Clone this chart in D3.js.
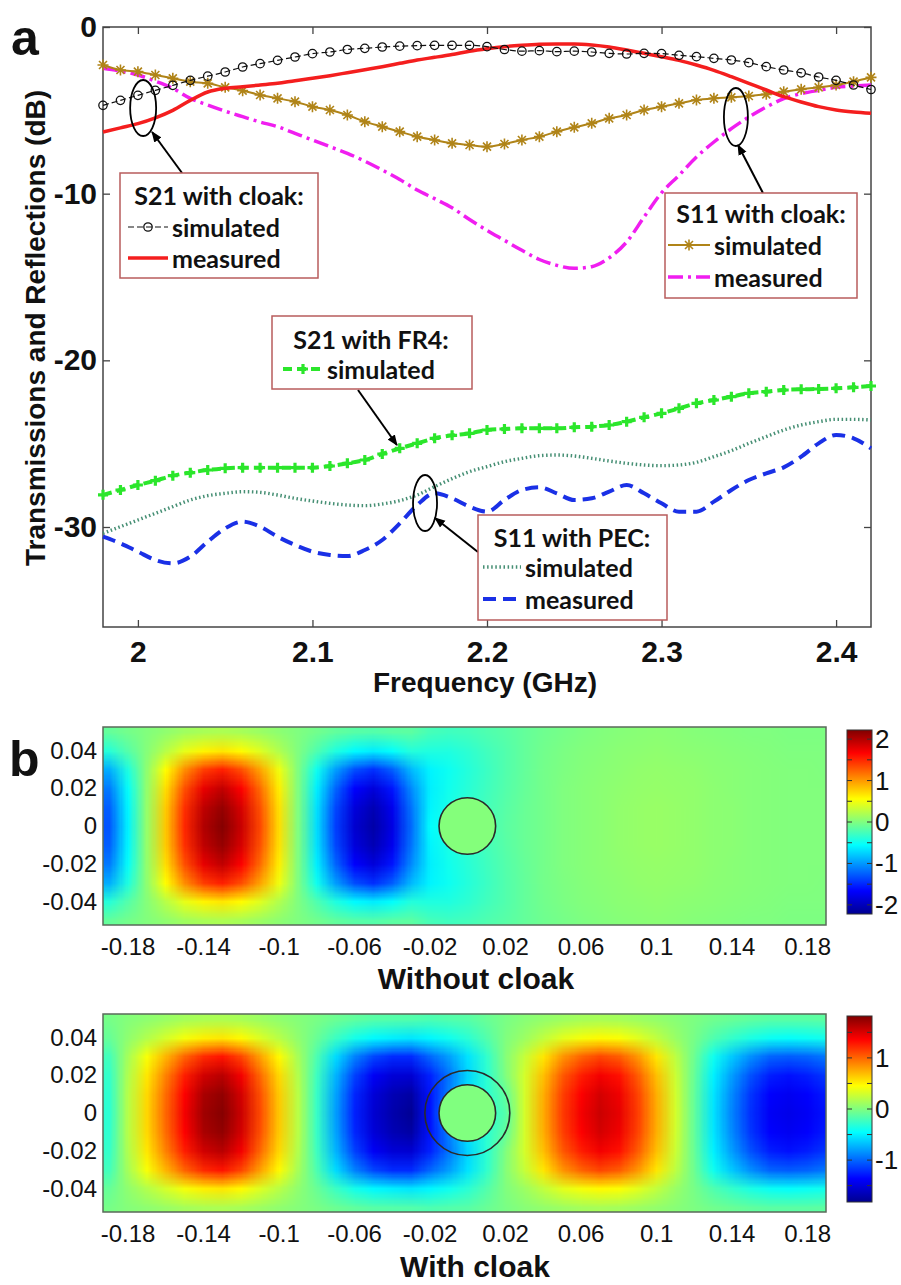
<!DOCTYPE html>
<html>
<head>
<meta charset="utf-8">
<script src="https://cdn.jsdelivr.net/npm/d3@7"></script>
<style>
  body { margin: 0; background: #fff; }
  svg { display: block; }
</style>
</head>
<body>
<svg id="fig" width="901" height="1285"></svg>
<script>
// ---------- panel a data ----------
const freqGHz = [1.98, 1.99, 2.00, 2.01, 2.02, 2.03, 2.04, 2.05, 2.06, 2.07, 2.08, 2.09, 2.10, 2.11, 2.12,
  2.13, 2.14, 2.15, 2.16, 2.17, 2.18, 2.19, 2.20, 2.21, 2.22, 2.23, 2.24, 2.25, 2.26, 2.27, 2.28, 2.29,
  2.30, 2.31, 2.32, 2.33, 2.34, 2.35, 2.36, 2.37, 2.38, 2.39, 2.40, 2.41, 2.42];

const s21CloakSim = [-4.7, -4.4, -4.1, -3.8, -3.5, -3.2, -2.95, -2.7, -2.4, -2.2, -2.0, -1.8, -1.6, -1.5, -1.35,
  -1.28, -1.2, -1.15, -1.12, -1.1, -1.1, -1.1, -1.18, -1.35, -1.45, -1.42, -1.48, -1.45, -1.5, -1.58, -1.62,
  -1.58, -1.6, -1.7, -1.78, -1.88, -1.98, -2.14, -2.38, -2.58, -2.75, -3.0, -3.2, -3.48, -3.75];
const s21CloakMeas = [-6.3, -6.05, -5.8, -5.45, -5.0, -4.4, -3.9, -3.68, -3.58, -3.48, -3.38, -3.22, -3.08, -2.92,
  -2.74, -2.56, -2.38, -2.18, -1.98, -1.82, -1.65, -1.45, -1.3, -1.18, -1.1, -1.04, -1.02, -1.02, -1.08, -1.2,
  -1.38, -1.58, -1.78, -2.0, -2.28, -2.6, -2.98, -3.38, -3.78, -4.18, -4.5, -4.78, -4.98, -5.1, -5.18];
const s11CloakSim = [-2.28, -2.58, -2.68, -2.88, -3.08, -3.28, -3.38, -3.62, -3.82, -4.08, -4.28, -4.48, -4.78,
  -4.98, -5.28, -5.68, -5.98, -6.28, -6.58, -6.78, -6.98, -7.08, -7.18, -7.02, -6.78, -6.58, -6.28, -6.02,
  -5.78, -5.48, -5.28, -4.98, -4.78, -4.58, -4.38, -4.28, -4.22, -4.14, -4.04, -3.88, -3.74, -3.62, -3.48,
  -3.28, -3.02];
const s11CloakMeas = [-2.48, -2.65, -2.88, -3.25, -3.68, -4.28, -4.68, -5.05, -5.38, -5.7, -5.98, -6.38, -6.78,
  -7.18, -7.58, -8.05, -8.58, -9.15, -9.78, -10.3, -10.85, -11.55, -12.2, -12.8, -13.4, -13.95, -14.3, -14.48,
  -14.38, -13.85, -12.9, -11.4, -9.95, -8.9, -7.8, -6.9, -6.1, -5.4, -4.8, -4.3, -4.0, -3.8, -3.62, -3.55, -3.48];
const s21Fr4Sim = [-28.07, -27.78, -27.48, -27.22, -26.92, -26.74, -26.58, -26.48, -26.44, -26.44, -26.44, -26.44,
  -26.44, -26.34, -26.18, -25.98, -25.62, -25.28, -24.98, -24.68, -24.5, -24.38, -24.18, -24.12, -24.08, -24.08,
  -24.08, -24.02, -23.98, -23.88, -23.68, -23.42, -23.18, -22.88, -22.58, -22.38, -22.18, -21.98, -21.88,
  -21.78, -21.74, -21.72, -21.68, -21.62, -21.54];
const s11PecSim = [-30.38, -29.98, -29.58, -29.18, -28.78, -28.38, -28.12, -27.98, -27.88, -27.92, -28.08, -28.28,
  -28.44, -28.58, -28.68, -28.72, -28.62, -28.42, -28.08, -27.58, -27.1, -26.68, -26.38, -26.08, -25.88, -25.72,
  -25.68, -25.74, -25.88, -26.04, -26.18, -26.28, -26.32, -26.28, -26.12, -25.78, -25.42, -24.98, -24.58,
  -24.18, -23.88, -23.68, -23.54, -23.54, -23.58];
const s11PecMeas = [-30.58, -30.98, -31.48, -31.98, -32.18, -31.78, -30.88, -30.08, -29.68, -29.98, -30.58, -31.08,
  -31.48, -31.68, -31.74, -31.38, -30.78, -29.78, -28.68, -27.98, -28.28, -28.78, -29.08, -28.38, -27.78, -27.62,
  -27.98, -28.38, -28.28, -27.88, -27.48, -27.98, -28.58, -29.08, -29.08, -28.48, -27.78, -27.18, -26.78,
  -26.42, -25.78, -24.98, -24.48, -24.68, -25.28];

const freqTicks = [2, 2.1, 2.2, 2.3, 2.4];
const dbTicks = [0, -10, -20, -30];

// ellipse annotations (freq, dB) and arrows [from, to]
const ringMarks = [[2.003, -4.86], [2.3426, -5.4], [2.1645, -28.56]];
const arrowMarks = [
  [[2.0253, -8.76], [2.0081, -6.3]],
  [[2.3581, -9.96], [2.3438, -7.08]],
  [[2.1948, -31.5], [2.1702, -29.46]],
  [[2.1261, -21.78], [2.1484, -25.08]]
];

// ---------- panel b data: field maps, one column per x, rows from y=0.05 down to y=-0.05 ----------
const fieldX = [-0.19, -0.18, -0.17, -0.16, -0.15, -0.14, -0.13, -0.12, -0.11, -0.10, -0.09, -0.08, -0.07,
  -0.06, -0.05, -0.04, -0.03, -0.02, -0.01, 0.00, 0.01, 0.02, 0.03, 0.04, 0.05, 0.06, 0.07, 0.08, 0.09, 0.10,
  0.11, 0.12, 0.13, 0.14, 0.15, 0.16, 0.17, 0.18, 0.19];
const fieldY = [0.05, 0.04, 0.03, 0.02, 0.01, 0, -0.01, -0.02, -0.03, -0.04, -0.05];

const fieldWithout = [
  [-0.12, -0.39, -0.91, -1.14, -1.26, -1.3, -1.26, -1.14, -0.91, -0.39, -0.12],
  [-0.05, -0.18, -0.42, -0.53, -0.58, -0.6, -0.58, -0.53, -0.42, -0.18, -0.05],
  [0.01, 0.03, 0.07, 0.09, 0.1, 0.1, 0.1, 0.09, 0.07, 0.03, 0.01],
  [0.07, 0.24, 0.56, 0.7, 0.78, 0.8, 0.78, 0.7, 0.56, 0.24, 0.07],
  [0.14, 0.45, 1.05, 1.32, 1.46, 1.5, 1.46, 1.32, 1.05, 0.45, 0.14],
  [0.18, 0.6, 1.4, 1.76, 1.94, 2.0, 1.94, 1.76, 1.4, 0.6, 0.18],
  [0.2, 0.66, 1.54, 1.94, 2.13, 2.2, 2.13, 1.94, 1.54, 0.66, 0.2],
  [0.17, 0.57, 1.33, 1.67, 1.84, 1.9, 1.84, 1.67, 1.33, 0.57, 0.17],
  [0.12, 0.41, 0.95, 1.19, 1.31, 1.35, 1.31, 1.19, 0.95, 0.41, 0.12],
  [0.06, 0.21, 0.49, 0.62, 0.68, 0.7, 0.68, 0.62, 0.49, 0.21, 0.06],
  [0, 0, 0, 0, 0, 0, 0, 0, 0, 0, 0],
  [-0.06, -0.21, -0.49, -0.62, -0.68, -0.7, -0.68, -0.62, -0.49, -0.21, -0.06],
  [-0.13, -0.42, -0.98, -1.23, -1.36, -1.4, -1.36, -1.23, -0.98, -0.42, -0.13],
  [-0.17, -0.57, -1.33, -1.67, -1.84, -1.9, -1.84, -1.67, -1.33, -0.57, -0.17],
  [-0.19, -0.63, -1.47, -1.85, -2.04, -2.1, -2.04, -1.85, -1.47, -0.63, -0.19],
  [-0.16, -0.54, -1.26, -1.58, -1.75, -1.8, -1.75, -1.58, -1.26, -0.54, -0.16],
  [-0.15, -0.4, -0.86, -1.06, -1.16, -1.2, -1.16, -1.06, -0.86, -0.4, -0.15],
  [-0.25, -0.42, -0.6, -0.62, -0.6, -0.55, -0.6, -0.62, -0.6, -0.42, -0.25],
  [-0.28, -0.42, -0.5, -0.48, -0.45, -0.45, -0.45, -0.48, -0.5, -0.42, -0.28],
  [-0.26, -0.36, -0.4, -0.38, -0.35, -0.35, -0.35, -0.38, -0.4, -0.36, -0.26],
  [-0.21, -0.27, -0.3, -0.28, -0.26, -0.25, -0.26, -0.28, -0.3, -0.27, -0.21],
  [-0.17, -0.2, -0.2, -0.19, -0.17, -0.16, -0.17, -0.19, -0.2, -0.2, -0.17],
  [-0.12, -0.12, -0.12, -0.11, -0.1, -0.1, -0.1, -0.11, -0.12, -0.12, -0.12],
  [-0.07, -0.06, -0.05, -0.05, -0.05, -0.05, -0.05, -0.05, -0.05, -0.06, -0.07],
  [-0.04, -0.02, -0.01, 0, 0, 0, 0, 0, -0.01, -0.02, -0.04],
  [-0.01, 0.01, 0.02, 0.03, 0.03, 0.03, 0.03, 0.03, 0.02, 0.01, -0.01],
  [0.01, 0.03, 0.04, 0.05, 0.05, 0.05, 0.05, 0.05, 0.04, 0.03, 0.01],
  [0.03, 0.05, 0.06, 0.07, 0.08, 0.08, 0.08, 0.07, 0.06, 0.05, 0.03],
  [0.04, 0.06, 0.08, 0.09, 0.1, 0.1, 0.1, 0.09, 0.08, 0.06, 0.04],
  [0.05, 0.07, 0.09, 0.1, 0.11, 0.11, 0.11, 0.1, 0.09, 0.07, 0.05],
  [0.04, 0.06, 0.08, 0.09, 0.1, 0.1, 0.1, 0.09, 0.08, 0.06, 0.04],
  [0.03, 0.05, 0.07, 0.08, 0.08, 0.08, 0.08, 0.08, 0.07, 0.05, 0.03],
  [0.02, 0.04, 0.05, 0.06, 0.06, 0.06, 0.06, 0.06, 0.05, 0.04, 0.02],
  [0.01, 0.03, 0.04, 0.04, 0.05, 0.05, 0.05, 0.04, 0.04, 0.03, 0.01],
  [0, 0.02, 0.03, 0.03, 0.03, 0.03, 0.03, 0.03, 0.03, 0.02, 0],
  [0, 0.01, 0.02, 0.02, 0.02, 0.02, 0.02, 0.02, 0.02, 0.01, 0],
  [-0.01, 0, 0.01, 0.01, 0.01, 0.01, 0.01, 0.01, 0.01, 0, -0.01],
  [-0.01, 0, 0.01, 0.01, 0.01, 0.01, 0.01, 0.01, 0.01, 0, -0.01],
  [-0.01, 0, 0, 0.01, 0.01, 0.01, 0.01, 0.01, 0, 0, -0.01]
];

const fieldWith = [
  [-0.03, -0.09, -0.22, -0.27, -0.29, -0.3, -0.29, -0.27, -0.22, -0.09, -0.03],
  [0.02, 0.06, 0.14, 0.18, 0.2, 0.2, 0.2, 0.18, 0.14, 0.06, 0.02],
  [0.05, 0.18, 0.43, 0.54, 0.59, 0.6, 0.59, 0.54, 0.43, 0.18, 0.05],
  [0.09, 0.3, 0.72, 0.9, 0.98, 1.0, 0.98, 0.9, 0.72, 0.3, 0.09],
  [0.13, 0.42, 1.01, 1.26, 1.37, 1.4, 1.37, 1.26, 1.01, 0.42, 0.13],
  [0.15, 0.51, 1.22, 1.53, 1.67, 1.7, 1.67, 1.53, 1.22, 0.51, 0.15],
  [0.16, 0.54, 1.3, 1.62, 1.76, 1.8, 1.76, 1.62, 1.3, 0.54, 0.16],
  [0.14, 0.47, 1.12, 1.4, 1.52, 1.55, 1.52, 1.4, 1.12, 0.47, 0.14],
  [0.1, 0.33, 0.79, 0.99, 1.08, 1.1, 1.08, 0.99, 0.79, 0.33, 0.1],
  [0.06, 0.2, 0.47, 0.59, 0.64, 0.65, 0.64, 0.59, 0.47, 0.2, 0.06],
  [0.02, 0.06, 0.14, 0.18, 0.2, 0.2, 0.2, 0.18, 0.14, 0.06, 0.02],
  [-0.02, -0.08, -0.18, -0.23, -0.25, -0.25, -0.25, -0.23, -0.18, -0.08, -0.02],
  [-0.07, -0.24, -0.58, -0.72, -0.78, -0.8, -0.78, -0.72, -0.58, -0.24, -0.07],
  [-0.11, -0.38, -0.9, -1.13, -1.23, -1.25, -1.23, -1.13, -0.9, -0.38, -0.11],
  [-0.14, -0.47, -1.12, -1.4, -1.52, -1.55, -1.52, -1.4, -1.12, -0.47, -0.14],
  [-0.15, -0.51, -1.22, -1.53, -1.67, -1.7, -1.67, -1.53, -1.22, -0.51, -0.15],
  [-0.16, -0.54, -1.22, -1.55, -1.74, -1.8, -1.74, -1.55, -1.22, -0.54, -0.16],
  [-0.18, -0.48, -1.0, -1.25, -1.3, -1.3, -1.3, -1.25, -1.0, -0.48, -0.18],
  [-0.16, -0.4, -0.8, -0.95, -0.9, -0.8, -0.9, -0.95, -0.8, -0.4, -0.16],
  [-0.14, -0.3, -0.55, -0.6, -0.55, -0.5, -0.55, -0.6, -0.55, -0.3, -0.14],
  [-0.08, -0.16, -0.28, -0.3, -0.3, -0.3, -0.3, -0.3, -0.28, -0.16, -0.08],
  [-0.02, 0, 0.02, 0, -0.1, -0.15, -0.1, 0, 0.02, 0, -0.02],
  [0.03, 0.1, 0.25, 0.3, 0.3, 0.3, 0.3, 0.3, 0.25, 0.1, 0.03],
  [0.07, 0.23, 0.54, 0.68, 0.74, 0.75, 0.74, 0.68, 0.54, 0.23, 0.07],
  [0.1, 0.35, 0.83, 1.04, 1.13, 1.15, 1.13, 1.04, 0.83, 0.35, 0.1],
  [0.13, 0.42, 1.01, 1.26, 1.37, 1.4, 1.37, 1.26, 1.01, 0.42, 0.13],
  [0.14, 0.47, 1.12, 1.4, 1.52, 1.55, 1.52, 1.4, 1.12, 0.47, 0.14],
  [0.13, 0.44, 1.04, 1.31, 1.42, 1.45, 1.42, 1.31, 1.04, 0.44, 0.13],
  [0.1, 0.35, 0.83, 1.04, 1.13, 1.15, 1.13, 1.04, 0.83, 0.35, 0.1],
  [0.07, 0.23, 0.54, 0.68, 0.74, 0.75, 0.74, 0.68, 0.54, 0.23, 0.07],
  [0.03, 0.09, 0.22, 0.27, 0.29, 0.3, 0.29, 0.27, 0.22, 0.09, 0.03],
  [-0.01, -0.03, -0.07, -0.09, -0.1, -0.1, -0.1, -0.09, -0.07, -0.03, -0.01],
  [-0.05, -0.17, -0.4, -0.5, -0.54, -0.55, -0.54, -0.5, -0.4, -0.17, -0.05],
  [-0.08, -0.27, -0.65, -0.81, -0.88, -0.9, -0.88, -0.81, -0.65, -0.27, -0.08],
  [-0.11, -0.36, -0.86, -1.08, -1.18, -1.2, -1.18, -1.08, -0.86, -0.36, -0.11],
  [-0.13, -0.42, -1.01, -1.26, -1.37, -1.4, -1.37, -1.26, -1.01, -0.42, -0.13],
  [-0.13, -0.44, -1.04, -1.31, -1.42, -1.45, -1.42, -1.31, -1.04, -0.44, -0.13],
  [-0.13, -0.42, -1.01, -1.26, -1.37, -1.4, -1.37, -1.26, -1.01, -0.42, -0.13],
  [-0.12, -0.39, -0.94, -1.17, -1.27, -1.3, -1.27, -1.17, -0.94, -0.39, -0.12]
];

const fieldTicksX = [-0.18, -0.14, -0.1, -0.06, -0.02, 0.02, 0.06, 0.1, 0.14, 0.18];
const fieldTicksY = [0.04, 0.02, 0, -0.02, -0.04];
const coreRadius = 0.015, shellRadius = 0.0225;

// ---------- drawing ----------
const svg = d3.select("#fig");
svg.append("rect").attr("width", 901).attr("height", 1285).attr("fill", "#fff");
const defs = svg.append("defs");
const ARIAL = "'Liberation Sans', Arial, sans-serif";
const CALIBRI = "Lato, 'Open Sans', sans-serif";

const A = {left: 103, right: 871, top: 27, bottom: 627};
const x = d3.scaleLinear().domain([1.98, 2.42]).range([A.left, A.right]);
const y = d3.scaleLinear().domain([-36, 0]).range([A.bottom, A.top]);
const num = d => String(d);

function styleAxis(g, size) {
  g.select(".domain").remove();
  g.selectAll(".tick line").attr("stroke", "#444").attr("stroke-width", 1.3);
  g.selectAll("text").attr("font-family", ARIAL).attr("font-weight", "bold")
    .attr("font-size", size).attr("fill", "#111");
}

const gA = svg.append("g");
gA.append("g").attr("transform", `translate(0,${A.bottom})`)
  .call(d3.axisBottom(x).tickValues(freqTicks).tickFormat(num).tickSizeInner(-7).tickSizeOuter(0).tickPadding(14))
  .call(g => styleAxis(g, 30));
gA.append("g").attr("transform", `translate(0,${A.top})`)
  .call(d3.axisTop(x).tickValues(freqTicks).tickFormat("").tickSizeInner(-7).tickSizeOuter(0))
  .call(g => styleAxis(g, 30));
gA.append("g").attr("transform", `translate(${A.left},0)`)
  .call(d3.axisLeft(y).tickValues(dbTicks).tickFormat(num).tickSizeInner(-7).tickSizeOuter(0).tickPadding(6))
  .call(g => styleAxis(g, 30));
gA.append("g").attr("transform", `translate(${A.right},0)`)
  .call(d3.axisRight(y).tickValues(dbTicks).tickFormat("").tickSizeInner(-7).tickSizeOuter(0))
  .call(g => styleAxis(g, 30));
gA.append("rect").attr("x", A.left).attr("y", A.top)
  .attr("width", A.right - A.left).attr("height", A.bottom - A.top)
  .attr("fill", "none").attr("stroke", "#444").attr("stroke-width", 1.5);

gA.append("text").attr("x", 485).attr("y", 692).attr("text-anchor", "middle")
  .attr("font-family", ARIAL).attr("font-weight", "bold").attr("font-size", 28).attr("fill", "#111")
  .text("Frequency (GHz)");
gA.append("text").attr("transform", "translate(45,328) rotate(-90)").attr("text-anchor", "middle")
  .attr("font-family", ARIAL).attr("font-weight", "bold").attr("font-size", 28).attr("fill", "#111")
  .text("Transmissions and Reflections (dB)");

const starPath = "M-5.5,0H5.5M0,-5.5V5.5M-4,-4L4,4M-4,4L4,-4";
const plusPath = "M-5,0H5M0,-5V5";

const styles = {
  fr4: {color: "#2be62b", width: 4, dash: "9,5", marker: "plus"},
  pecSim: {color: "#468f74", width: 3.4, dash: "1.5,2.6"},
  pecMeas: {color: "#1a30e6", width: 4, dash: "13,7"},
  s11Meas: {color: "#f01ef0", width: 3.5, dash: "15,5,3,5"},
  s11Sim: {color: "#b08418", width: 2, dash: null, marker: "star"},
  s21Meas: {color: "#f41e1e", width: 3.5, dash: null},
  s21Sim: {color: "#111", width: 1.2, dash: "6,3", marker: "circle"}
};

const series = [
  {vals: s21Fr4Sim, st: styles.fr4},
  {vals: s11PecSim, st: styles.pecSim},
  {vals: s11PecMeas, st: styles.pecMeas},
  {vals: s11CloakMeas, st: styles.s11Meas},
  {vals: s11CloakSim, st: styles.s11Sim},
  {vals: s21CloakMeas, st: styles.s21Meas},
  {vals: s21CloakSim, st: styles.s21Sim}
];

function drawMarker(g, kind, st, px, py) {
  if (kind === "circle") {
    g.append("circle").attr("cx", px).attr("cy", py).attr("r", 4.2)
      .attr("fill", "none").attr("stroke", st.color).attr("stroke-width", 1.3);
  } else if (kind === "star") {
    g.append("path").attr("d", starPath).attr("transform", `translate(${px},${py})`)
      .attr("stroke", st.color).attr("stroke-width", 1.6).attr("fill", "none");
  } else if (kind === "plus") {
    g.append("path").attr("d", plusPath).attr("transform", `translate(${px},${py})`)
      .attr("stroke", st.color).attr("stroke-width", 3.2).attr("fill", "none");
  }
}

const line = d3.line().x((d, i) => x(freqGHz[i])).y(d => y(d)).curve(d3.curveMonotoneX);
const gLines = gA.append("g");
series.forEach(s => {
  gLines.append("path").attr("d", line(s.vals)).attr("fill", "none")
    .attr("stroke", s.st.color).attr("stroke-width", s.st.width)
    .attr("stroke-dasharray", s.st.dash).attr("stroke-linejoin", "round");
  if (s.st.marker) {
    const gm = gLines.append("g");
    s.vals.forEach((v, i) => drawMarker(gm, s.st.marker, s.st, x(freqGHz[i]), y(v)));
  }
});

// annotations
defs.append("marker").attr("id", "arrowHead").attr("viewBox", "0 0 10 10")
  .attr("refX", 9).attr("refY", 5).attr("markerWidth", 11).attr("markerHeight", 11)
  .attr("markerUnits", "userSpaceOnUse").attr("orient", "auto")
  .append("path").attr("d", "M0,1 L10,5 L0,9 z").attr("fill", "#000");

const ringSizes = [[13, 28], [12, 29], [12, 28]];
ringMarks.forEach((r, i) => {
  gA.append("ellipse").attr("cx", x(r[0])).attr("cy", y(r[1]))
    .attr("rx", ringSizes[i][0]).attr("ry", ringSizes[i][1])
    .attr("fill", "none").attr("stroke", "#000").attr("stroke-width", 1.8);
});
arrowMarks.forEach(a => {
  gA.append("line").attr("x1", x(a[0][0])).attr("y1", y(a[0][1]))
    .attr("x2", x(a[1][0])).attr("y2", y(a[1][1]))
    .attr("stroke", "#000").attr("stroke-width", 2).attr("marker-end", "url(#arrowHead)");
});

// legend boxes
function legendBox(b) {
  const g = gA.append("g");
  g.append("rect").attr("x", b.x).attr("y", b.y).attr("width", b.w).attr("height", b.h)
    .attr("fill", "#fff").attr("stroke", "#b85c5c").attr("stroke-width", 1.5);
  g.append("text").attr("x", b.tx).attr("y", b.ty).attr("text-anchor", "middle")
    .attr("dominant-baseline", "central").attr("font-family", CALIBRI).attr("font-weight", "bold")
    .attr("font-size", 25).attr("fill", "#111").text(b.title);
  b.rows.forEach(r => {
    g.append("line").attr("x1", r.x0).attr("x2", r.x1).attr("y1", r.y).attr("y2", r.y)
      .attr("stroke", r.st.color).attr("stroke-width", r.st.width).attr("stroke-dasharray", r.st.dash);
    if (r.st.marker) drawMarker(g, r.st.marker, r.st, (r.x0 + r.x1) / 2, r.y);
    g.append("text").attr("x", r.x1 + 4).attr("y", r.y).attr("dominant-baseline", "central")
      .attr("font-family", CALIBRI).attr("font-weight", "bold").attr("font-size", 25)
      .attr("fill", "#111").text(r.label);
  });
}

legendBox({x: 120, y: 173, w: 198, h: 105, tx: 219, ty: 195, title: "S21 with cloak:", rows: [
  {x0: 128, x1: 168, y: 227, st: styles.s21Sim, label: "simulated"},
  {x0: 128, x1: 168, y: 258, st: styles.s21Meas, label: "measured"}]});
legendBox({x: 665, y: 193, w: 192, h: 105, tx: 761, ty: 213, title: "S11 with cloak:", rows: [
  {x0: 668, x1: 710, y: 245, st: styles.s11Sim, label: "simulated"},
  {x0: 668, x1: 710, y: 277, st: styles.s11Meas, label: "measured"}]});
legendBox({x: 272, y: 316, w: 200, h: 73, tx: 371, ty: 339, title: "S21 with FR4:", rows: [
  {x0: 283, x1: 323, y: 369, st: styles.fr4, label: "simulated"}]});
legendBox({x: 478, y: 515, w: 189, h: 105, tx: 572, ty: 537, title: "S11 with PEC:", rows: [
  {x0: 483, x1: 521, y: 567, st: styles.pecSim, label: "simulated"},
  {x0: 483, x1: 521, y: 599, st: styles.pecMeas, label: "measured"}]});

svg.append("text").attr("x", 11).attr("y", 55).attr("font-family", ARIAL).attr("font-weight", "bold")
  .attr("font-size", 50).attr("fill", "#111").text("a");
svg.append("text").attr("x", 9).attr("y", 776).attr("font-family", ARIAL).attr("font-weight", "bold")
  .attr("font-size", 50).attr("fill", "#111").text("b");

// ---------- panel b ----------
const jetStops = [0, 0.125, 0.375, 0.625, 0.875, 1];
const jetColors = ["#000090", "#0000ff", "#00ffff", "#ffff00", "#ff0000", "#800000"];
const jet = lim => d3.scaleLinear().domain(jetStops.map(t => -lim + 2 * lim * t))
  .range(jetColors).clamp(true);

function drawField(cfg) {
  const fx = d3.scaleLinear().domain([-0.193, 0.19]).range([103, 826]);
  const fy = d3.scaleLinear().domain([-0.0525, 0.0525]).range([cfg.bottom, cfg.top]);
  const color = jet(cfg.lim);
  const g = svg.append("g");

  const clipId = "clip" + cfg.id;
  defs.append("clipPath").attr("id", clipId).append("rect")
    .attr("x", fx.range()[0]).attr("y", cfg.top)
    .attr("width", fx.range()[1] - fx.range()[0]).attr("height", cfg.bottom - cfg.top);

  const nx = fieldX.length, ny = fieldY.length;
  const cv = document.createElement("canvas");
  cv.width = nx; cv.height = ny;
  const ctx = cv.getContext("2d");
  const img = ctx.createImageData(nx, ny);
  cfg.cols.forEach((col, i) => col.forEach((v, j) => {
    const c = d3.rgb(color(v)), k = 4 * (j * nx + i);
    img.data[k] = c.r; img.data[k + 1] = c.g; img.data[k + 2] = c.b; img.data[k + 3] = 255;
  }));
  ctx.putImageData(img, 0, 0);
  const hx = (fieldX[1] - fieldX[0]) / 2, hy = (fieldY[0] - fieldY[1]) / 2;
  g.append("image").attr("href", cv.toDataURL()).attr("preserveAspectRatio", "none")
    .attr("x", fx(fieldX[0] - hx)).attr("width", fx(fieldX[nx - 1] + hx) - fx(fieldX[0] - hx))
    .attr("y", fy(fieldY[0] + hy)).attr("height", fy(fieldY[ny - 1] - hy) - fy(fieldY[0] + hy))
    .attr("clip-path", `url(#${clipId})`);

  const rPx = fx(coreRadius) - fx(0);
  g.append("circle").attr("cx", fx(0)).attr("cy", fy(0)).attr("r", rPx).attr("fill", color(cfg.core));
  cfg.rings.forEach(r => {
    g.append("circle").attr("cx", fx(0)).attr("cy", fy(0)).attr("r", fx(r) - fx(0))
      .attr("fill", "none").attr("stroke", "#2a2a2a").attr("stroke-width", 1.6);
  });
  g.append("rect").attr("x", fx.range()[0]).attr("y", cfg.top)
    .attr("width", fx.range()[1] - fx.range()[0]).attr("height", cfg.bottom - cfg.top)
    .attr("fill", "none").attr("stroke", "#5a6a5a").attr("stroke-width", 1.5);

  const styleB = gg => {
    gg.select(".domain").remove();
    gg.selectAll(".tick line").remove();
    gg.selectAll("text").attr("font-family", ARIAL).attr("font-size", 24).attr("fill", "#111");
  };
  g.append("g").attr("transform", `translate(0,${cfg.bottom})`)
    .call(d3.axisBottom(fx).tickValues(fieldTicksX).tickFormat(num).tickSize(0).tickPadding(13))
    .call(styleB);
  g.append("g").attr("transform", `translate(${fx.range()[0]},0)`)
    .call(d3.axisLeft(fy).tickValues(fieldTicksY).tickFormat(num).tickSize(0).tickPadding(6))
    .call(styleB);

  g.append("text").attr("x", cfg.capX).attr("y", cfg.capY).attr("text-anchor", "middle")
    .attr("font-family", ARIAL).attr("font-weight", "bold").attr("font-size", 30).attr("fill", "#111")
    .text(cfg.caption);

  // colour bar
  const cb = {x0: 847, x1: 872};
  const cy = d3.scaleLinear().domain([-cfg.lim, cfg.lim]).range([cfg.cbBottom, cfg.cbTop]);
  const gradId = "grad" + cfg.id;
  const grad = defs.append("linearGradient").attr("id", gradId)
    .attr("x1", 0).attr("y1", 1).attr("x2", 0).attr("y2", 0);
  jetStops.forEach((t, i) => grad.append("stop").attr("offset", t).attr("stop-color", jetColors[i]));
  g.append("rect").attr("x", cb.x0).attr("y", cfg.cbTop).attr("width", cb.x1 - cb.x0)
    .attr("height", cfg.cbBottom - cfg.cbTop).attr("fill", `url(#${gradId})`)
    .attr("stroke", "#333").attr("stroke-width", 1);
  const minor = d3.range(-4, 5).map(k => k / 2).filter(v => Math.abs(v) < cfg.lim);
  minor.forEach(v => {
    g.append("line").attr("x1", cb.x0).attr("x2", cb.x0 + 5).attr("y1", cy(v)).attr("y2", cy(v))
      .attr("stroke", "#333").attr("stroke-width", 1);
    g.append("line").attr("x1", cb.x1 - 5).attr("x2", cb.x1).attr("y1", cy(v)).attr("y2", cy(v))
      .attr("stroke", "#333").attr("stroke-width", 1);
  });
  minor.filter(v => Number.isInteger(v)).forEach(v => {
    g.append("text").attr("x", cb.x1 + 3).attr("y", cy(v)).attr("dominant-baseline", "central")
      .attr("font-family", ARIAL).attr("font-size", 26).attr("fill", "#111").text(num(v));
  });
}

drawField({id: "top", top: 727, bottom: 925, cols: fieldWithout, lim: 2.22, core: 0.02,
  rings: [coreRadius], caption: "Without cloak", capX: 476, capY: 989, cbTop: 730, cbBottom: 914});
drawField({id: "bot", top: 1014, bottom: 1212, cols: fieldWith, lim: 1.82, core: 0.0,
  rings: [coreRadius, shellRadius], caption: "With cloak", capX: 475, capY: 1277, cbTop: 1016, cbBottom: 1202});
</script>
</body>
</html>
